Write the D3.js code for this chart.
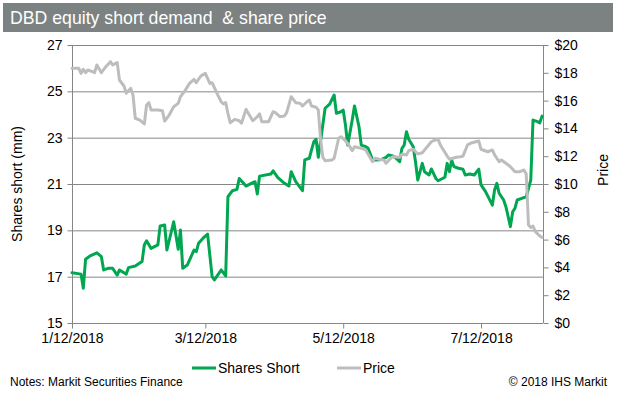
<!DOCTYPE html>
<html><head><meta charset="utf-8">
<script src="https://cdn.jsdelivr.net/npm/d3@7"></script>
<style>
html,body{margin:0;padding:0;background:#fff;}
svg{display:block;font-family:"Liberation Sans",Arial,sans-serif;}
</style></head>
<body><svg id="c" width="617" height="394"></svg>
<script>
const titleText = "DBD equity short demand  & share price";
const seriesNames = ["Shares Short", "Price"];
const xTickLabels = ["2018-01-12", "2018-03-12", "2018-05-12", "2018-07-12"];
const leftTicks = [15, 17, 19, 21, 23, 25, 27];
const rightTicks = [0, 2, 4, 6, 8, 10, 12, 14, 16, 18, 20];

const shortDates = ["01-12","01-16","01-17","01-18","01-20","01-23","01-25","01-26","01-28","01-30",
"02-01","02-02","02-04","02-05","02-06","02-09","02-12","02-13","02-14","02-16","02-19","02-20","02-22","02-23","02-26","02-28",
"03-01","03-02","03-04","03-07","03-08","03-09","03-11","03-13","03-15","03-16","03-18","03-19","03-21","03-22","03-24","03-26","03-27","03-30",
"04-02","04-03","04-04","04-05","04-10","04-11","04-13","04-16","04-18","04-19","04-21","04-24","04-25","04-27","04-28","04-29","04-30",
"05-01","05-04","05-06","05-08","05-09","05-11","05-12","05-13","05-14","05-16","05-17","05-19","05-20","05-22","05-23","05-25","05-27","05-29","05-31",
"06-01","06-03","06-04","06-06","06-07","06-08","06-09","06-10","06-12","06-13","06-14","06-16","06-17","06-19","06-20","06-22","06-23","06-26","06-27","06-28","06-29","06-30",
"07-02","07-04","07-05","07-07","07-09","07-11","07-12","07-14","07-17","07-18","07-19","07-20","07-22","07-23","07-25","07-26","07-27","07-28","07-30",
"08-01","08-02","08-03","08-04","08-06","08-07","08-08"];
const shortValues = [17.17,17.11,16.5,17.75,17.9,18.03,17.86,17.29,17.36,17.36,
17.07,17.29,17.17,17.11,17.39,17.46,17.65,18.37,18.55,18.22,18.37,19.19,19.23,18.15,19.37,18.18,
19.01,17.36,17.5,18.15,18.08,18.44,18.66,18.84,17.0,16.86,17.14,17.29,17.03,20.45,20.71,20.77,21.24,20.91,
21.06,21.1,20.57,21.34,21.43,21.57,21.29,21.03,20.91,21.53,21.1,20.71,22.04,22.11,22.47,22.82,22.93,
22.15,24.27,24.45,24.84,24.05,24.12,24.19,23.55,22.68,23.76,24.37,23.47,22.68,22.61,22.54,22.04,22.04,22.06,22.15,
22.25,22.21,22.15,21.96,22.54,22.68,23.26,22.93,22.61,21.96,21.17,21.89,21.53,21.39,21.65,21.24,21.14,21.29,21.89,21.53,22.04,21.75,
21.68,21.64,21.39,21.43,21.39,21.64,20.96,20.67,20.09,20.74,21.03,20.6,20.31,20.02,19.16,19.8,19.95,20.31,20.38,
20.45,20.81,21.17,23.76,23.69,23.64,23.93];

const priceDates = ["01-12","01-15","01-16","01-17","01-18","01-19","01-21","01-22","01-23","01-25","01-27","01-29","01-30",
"02-01","02-02","02-04","02-05","02-07","02-08","02-09","02-11","02-13","02-14","02-15","02-16","02-19","02-21","02-22","02-24","02-26","02-28",
"03-01","03-03","03-05","03-07","03-08","03-10","03-12","03-14","03-15","03-17","03-19","03-20","03-21","03-22","03-23","03-25","03-27","03-28","03-30","03-31",
"04-02","04-04","04-05","04-06","04-09","04-11","04-12","04-14","04-16","04-17","04-19","04-21","04-23","04-24","04-26","04-27","04-28","04-30",
"05-01","05-02","05-03","05-04","05-07","05-08","05-10","05-11","05-13","05-15","05-16","05-17","05-20","05-22","05-23","05-25","05-26","05-28","05-30","05-31",
"06-02","06-03","06-06","06-07","06-09","06-10","06-12","06-14","06-16","06-18","06-20","06-21","06-23","06-24","06-27","06-28",
"07-01","07-03","07-04","07-06","07-08","07-11","07-12","07-15","07-17","07-18","07-20","07-21","07-23","07-25","07-27","07-29","07-31",
"08-01","08-02","08-03","08-04","08-05","08-07","08-08"];
const priceValues = [18.32,18.32,17.96,18.25,18.01,18.2,18.08,18.01,18.56,18.01,18.44,18.8,18.56,
18.73,17.48,17.05,16.53,16.88,16.4,14.73,14.6,14.32,15.68,15.85,15.32,15.32,15.27,14.53,14.96,15.56,15.8,
16.28,16.71,17.24,17.53,17.29,17.77,17.96,17.24,17.29,16.57,15.92,15.76,15.85,15.09,14.41,14.65,14.55,14.37,15.37,15.09,
14.55,14.84,15.04,14.48,14.48,15.2,15.13,14.84,14.89,15.13,16.28,15.85,15.8,15.61,15.92,16.04,15.61,15.52,
15.32,13.17,11.92,11.68,11.73,11.85,13.29,13.4,13.12,12.68,12.4,12.68,12.57,12.45,12.16,11.6,11.85,11.78,11.73,11.49,
11.85,11.96,11.92,12.16,12.09,12.4,12.5,12.16,12.25,12.64,13.04,13.12,13.22,12.81,12.01,11.78,
11.92,11.96,12.01,12.81,12.97,13.09,12.5,12.32,12.45,12.09,11.6,11.73,11.49,11.24,10.88,10.88,11.01,
10.72,7.05,6.88,6.98,6.57,6.26,6.15];

const parse = d3.timeParse("%Y-%m-%d");
const fmt = d3.timeFormat("%-m/%-d/%Y");
const shortData = shortDates.map((d, i) => ({date: parse("2018-" + d), v: shortValues[i]}));
const priceData = priceDates.map((d, i) => ({date: parse("2018-" + d), v: priceValues[i]}));

const svg = d3.select("#c");
const L = 72, R = 543, T = 45, B = 323;
const x = d3.scaleTime().domain([parse("2018-01-12"), d3.timeHour.offset(parse("2018-08-08"), 10)]).range([L, R]);
const yL = d3.scaleLinear().domain([15, 27]).range([B, T]);
const yR = d3.scaleLinear().domain([0, 20]).range([B, T]);
const axisCol = "#868686";
const FF = '"Liberation Sans",Arial,sans-serif';

svg.append("rect").attr("width", 617).attr("height", 394).attr("fill", "#fff");
// title bar
svg.append("rect").attr("x", 3).attr("y", 3).attr("width", 610).attr("height", 29).attr("fill", "#7c8282");
svg.append("text").attr("x", 10).attr("y", 24).attr("fill", "#fff").attr("font-size", 17.7)
  .style("white-space", "pre").text(titleText);

// gridlines
svg.append("g").selectAll("line").data(leftTicks.slice(1)).join("line")
  .attr("x1", L).attr("x2", R).attr("y1", d => yL(d) + 0.5).attr("y2", d => yL(d) + 0.5)
  .attr("stroke", axisCol).attr("stroke-width", 1);

// left axis
const gl = svg.append("g").attr("transform", `translate(${L + 0.5},0)`)
  .call(d3.axisLeft(yL).tickValues(leftTicks).tickSize(5).tickPadding(5).tickFormat(d3.format("d")));
// right axis
const gr = svg.append("g").attr("transform", `translate(${R + 0.5},0)`)
  .call(d3.axisRight(yR).tickValues(rightTicks).tickSize(5).tickPadding(6).tickFormat(d => "$" + d));
// bottom axis
const gb = svg.append("g").attr("transform", `translate(0,${B + 0.5})`)
  .call(d3.axisBottom(x).tickValues(xTickLabels.map(parse)).tickSize(5).tickPadding(5).tickFormat(fmt));
[gl, gr, gb].forEach(g => {
  g.select(".domain").attr("stroke", axisCol).attr("stroke-width", 1);
  g.selectAll(".tick line").attr("stroke", axisCol);
  g.selectAll(".tick text").attr("fill", "#000").attr("font-size", 14).attr("font-family", FF);
});
gb.select(".domain").attr("d", `M${L},0H${R}`);
gl.select(".domain").attr("d", `M0,${T}V${B}`);
gr.select(".domain").attr("d", `M0,${T}V${B}`);

// axis titles
svg.append("text").attr("transform", `translate(22,${(T + B) / 2}) rotate(-90)`)
  .attr("text-anchor", "middle").attr("font-size", 14).text("Shares short (mm)");
svg.append("text").attr("transform", `translate(608,170) rotate(-90)`)
  .attr("text-anchor", "middle").attr("font-size", 14).text("Price");

// lines
const lineShort = d3.line().x(d => x(d.date)).y(d => yL(d.v));
const linePrice = d3.line().x(d => x(d.date)).y(d => yR(d.v));
svg.append("path").datum(shortData).attr("d", lineShort).attr("fill", "none")
  .attr("stroke", "#00a650").attr("stroke-width", 3).attr("stroke-linejoin", "round").attr("stroke-linecap", "round");
svg.append("path").datum(priceData).attr("d", linePrice).attr("fill", "none")
  .attr("stroke", "#bdbdbd").attr("stroke-width", 3).attr("stroke-linejoin", "round").attr("stroke-linecap", "round");

// legend
const legend = [{name: seriesNames[0], col: "#00a650", x: 192}, {name: seriesNames[1], col: "#bdbdbd", x: 337}];
const lg = svg.append("g");
legend.forEach(l => {
  lg.append("line").attr("x1", l.x).attr("x2", l.x + 24).attr("y1", 368).attr("y2", 368)
    .attr("stroke", l.col).attr("stroke-width", 3);
  lg.append("text").attr("x", l.x + 26).attr("y", 373).attr("font-size", 14).text(l.name);
});

// footer
svg.append("text").attr("x", 10).attr("y", 386).attr("font-size", 12).text("Notes: Markit Securities Finance");
svg.append("text").attr("x", 607).attr("y", 386).attr("font-size", 12).attr("text-anchor", "end").text("© 2018 IHS Markit");
</script></body></html>
